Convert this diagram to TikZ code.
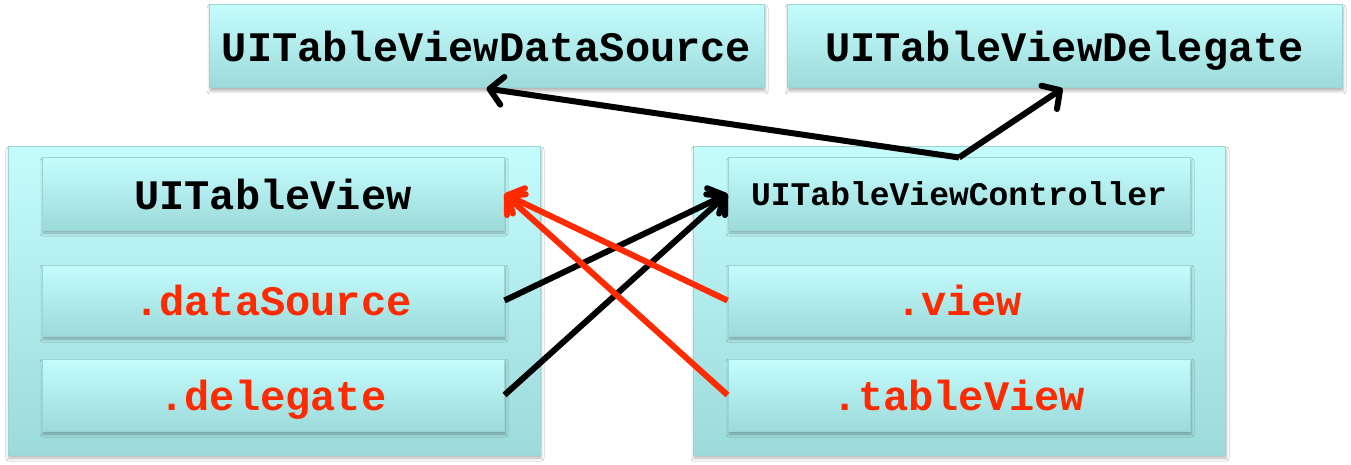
\documentclass[tikz,border=0pt]{standalone}
\usepackage{fontspec}
\setmonofont{Liberation Mono}
\usetikzlibrary{arrows.meta,shadows.blur}
\definecolor{cyantop}{HTML}{C4FCFC}
\definecolor{cyanbot}{HTML}{9DDADA}
\definecolor{cyanedge}{HTML}{9CD4D4}
\definecolor{propred}{HTML}{FF2A00}
\tikzset{
  cbox/.style={draw=cyanedge, line width=1pt, top color=cyantop, bottom color=cyanbot,
    inner sep=0pt, anchor=center, text depth=-3pt,
    blur shadow={shadow xshift=1pt, shadow yshift=-3pt, shadow opacity=30, shadow blur steps=5, shadow blur radius=3pt}},
  bigtxt/.style={font=\ttfamily\bfseries\fontsize{42}{42}\selectfont},
  smalltxt/.style={font=\ttfamily\bfseries\fontsize{33}{33}\selectfont},
  proptxt/.style={bigtxt, text=propred},
  link/.style={line width=6pt, -{Straight Barb[round,length=13pt,width=28pt]}},
  blink/.style={link, draw=black},
  rlink/.style={link, draw=propred},
}
\begin{document}
\begin{tikzpicture}[x=1pt,y=-1pt]
\useasboundingbox[fill=white] (0,0) rectangle (1351,465);
% containers
\node[cbox, minimum width=532pt, minimum height=308pt] (lc) at (274,301) {};
\node[cbox, minimum width=532pt, minimum height=308pt] (rc) at (959,301) {};
% top protocol boxes
\node[cbox, bigtxt, minimum width=555pt, minimum height=83pt] (ds) at (486.5,46.5) {UITableViewDataSource};
\node[cbox, bigtxt, minimum width=555pt, minimum height=83pt] (dl) at (1064.5,46.5) {UITableViewDelegate};
% left inner boxes
\node[cbox, bigtxt, minimum width=462pt, minimum height=72pt] (tv) at (273,194) {UITableView};
\node[cbox, proptxt, minimum width=462pt, minimum height=71pt] (dsrc) at (273,300.5) {.dataSource};
\node[cbox, proptxt, minimum width=462pt, minimum height=72pt] (dlg) at (273,395) {.delegate};
% right inner boxes
\node[cbox, smalltxt, minimum width=462pt, minimum height=72pt] (ctl) at (959,194) {UITableViewController};
\node[cbox, proptxt, minimum width=462pt, minimum height=71pt] (vw) at (959,300.5) {.view};
\node[cbox, proptxt, minimum width=462pt, minimum height=72pt] (tbv) at (959,395) {.tableView};
% connectors
\coordinate (j) at (ctl.north);
\draw[blink] (j) -- (ds.south);
\draw[blink] (j) -- ([xshift=-2pt]dl.south);
\draw[blink] (dsrc.east) -- (ctl.west);
\draw[blink] (dlg.east) -- (ctl.west);
\draw[rlink] (vw.west) -- (tv.east);
\draw[rlink] (tbv.west) -- (tv.east);
\end{tikzpicture}
\end{document}
